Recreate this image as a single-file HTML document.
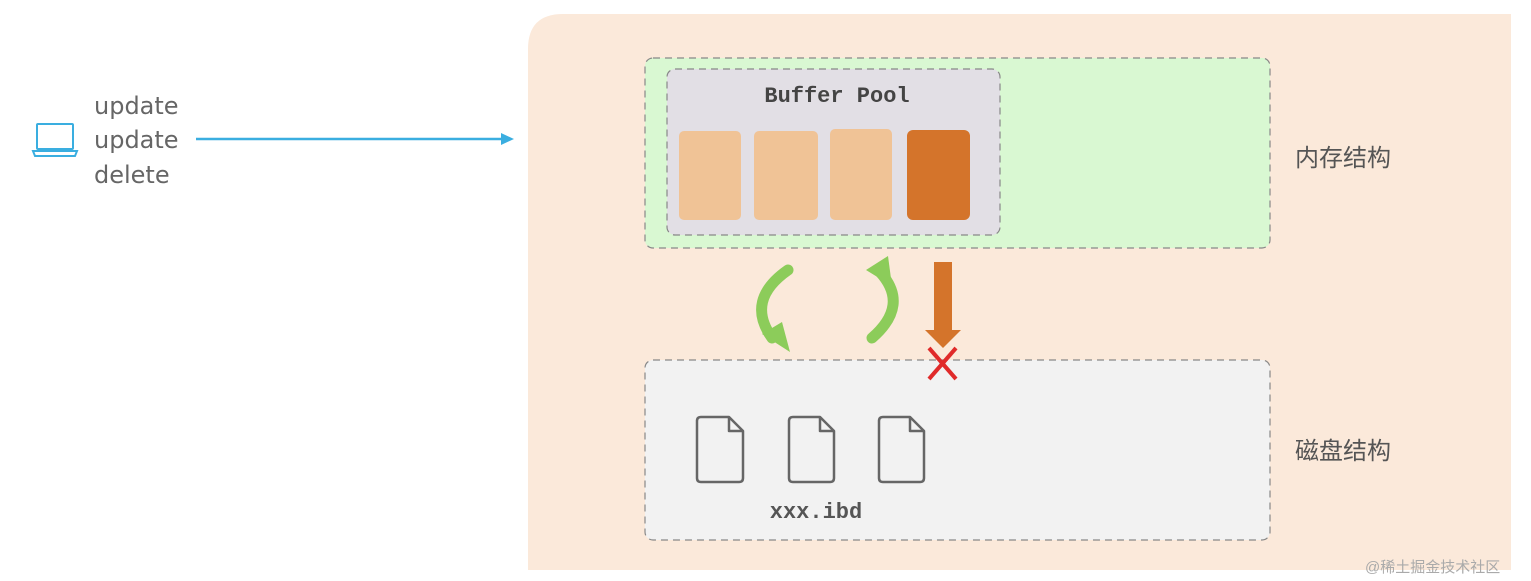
<!DOCTYPE html>
<html><head><meta charset="utf-8"><style>
html,body{margin:0;padding:0;background:#fff;width:1531px;height:581px;overflow:hidden}
</style></head><body>
<svg width="1531" height="581" xmlns="http://www.w3.org/2000/svg">
<path d="M563,14 H1511 V570 H528 V49 Q528,14 563,14 Z" fill="#fbe9da"/>
<rect x="645" y="58" width="625" height="190" rx="8" fill="#d9f8d2" stroke="#888" stroke-dasharray="7,5" stroke-width="1.2"/>
<rect x="667" y="69" width="333" height="166" rx="8" fill="#e2dfe5" stroke="#888" stroke-dasharray="7,5" stroke-width="1.2"/>
<text x="837" y="102" text-anchor="middle" font-family="Liberation Mono, monospace" font-weight="bold" font-size="22" fill="#444">Buffer Pool</text>
<rect x="679" y="131" width="62" height="89" rx="5" fill="#f0c396"/>
<rect x="754" y="131" width="64" height="89" rx="5" fill="#f0c396"/>
<rect x="830" y="129" width="62" height="91" rx="5" fill="#f0c396"/>
<rect x="907" y="130" width="63" height="90" rx="6" fill="#d4742b"/>
<rect x="645" y="360" width="625" height="180" rx="8" fill="#f2f2f2" stroke="#888" stroke-dasharray="7,5" stroke-width="1.2"/>
<g fill="none" stroke="#666" stroke-width="2.5" stroke-linejoin="round">
<path d="M703,417 H729 L743,431 V478 Q743,482 739,482 H701 Q697,482 697,478 V421 Q697,417 701,417 Z M729,417 V431 H743"/>
<path d="M795,417 H820 L834,431 V478 Q834,482 830,482 H793 Q789,482 789,478 V421 Q789,417 793,417 Z M820,417 V431 H834"/>
<path d="M885,417 H910 L924,431 V478 Q924,482 920,482 H883 Q879,482 879,478 V421 Q879,417 883,417 Z M910,417 V431 H924"/>
</g>
<text x="816" y="518" text-anchor="middle" font-family="Liberation Mono, monospace" font-weight="bold" font-size="22" fill="#555">xxx.ibd</text>
<text x="1295" y="166" font-family="Liberation Sans, Noto Sans CJK SC, sans-serif" font-size="24" fill="#555">内存结构</text>
<text x="1295" y="459" font-family="Liberation Sans, Noto Sans CJK SC, sans-serif" font-size="24" fill="#555">磁盘结构</text>
<g fill="none" stroke="#8ccc5a" stroke-width="11" stroke-linecap="round">
<path d="M788,270 Q745,300 772,338"/>
<path d="M872,338 Q910,305 880,272"/>
</g>
<polygon points="762,334 790,352 782,322" fill="#8ccc5a"/>
<polygon points="866,270 888,256 892,286" fill="#8ccc5a"/>
<rect x="934" y="262" width="18" height="70" fill="#d4742b"/>
<polygon points="925,330 961,330 943,348" fill="#d4742b"/>
<g stroke="#e02a2a" stroke-width="4"><line x1="929" y1="348" x2="956" y2="379"/><line x1="956" y1="348" x2="929" y2="379"/></g>
<g fill="none" stroke="#3aaee0" stroke-width="2">
<rect x="37" y="124" width="36" height="25" rx="1"/>
<path d="M33,151 H77 L75,156 H35 Z"/>
</g>
<line x1="196" y1="139" x2="505" y2="139" stroke="#3aaee0" stroke-width="2.5"/>
<polygon points="514,139 501,133 501,145" fill="#3aaee0"/>
<g font-family="DejaVu Sans, Liberation Sans, sans-serif" font-size="24" fill="#666">
<text x="94" y="114">update</text>
<text x="94" y="148">update</text>
<text x="94" y="183">delete</text>
</g>
<text x="1365" y="572" font-family="Liberation Sans, Noto Sans CJK SC, sans-serif" font-size="15" fill="#aaa">@稀土掘金技术社区</text>
</svg>
</body></html>
